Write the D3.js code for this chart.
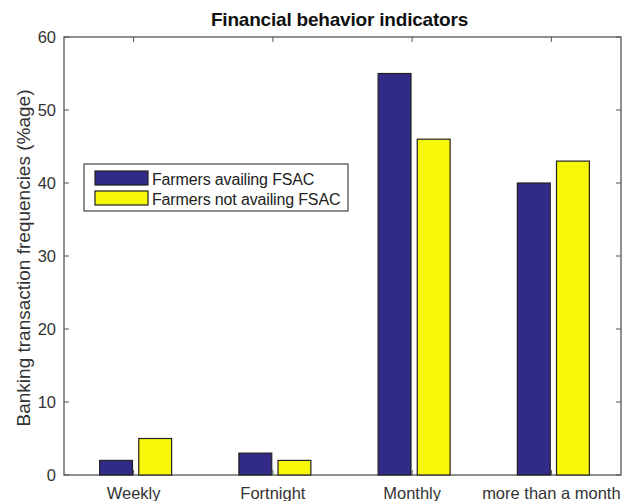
<!DOCTYPE html>
<html lang="en">
<head>
<meta charset="utf-8">
<title>Financial behavior indicators</title>
<script src="https://d3js.org/d3.v7.min.js"></script>
<style>
  body { margin: 0; background: #fff; }
  text { font-family: "Liberation Sans", Arial, sans-serif; }
</style>
</head>
<body>
<script>
const categories = ["Weekly", "Fortnight", "Monthly", "more than a month"];
const series = ["Farmers availing FSAC", "Farmers not availing FSAC"];
const availing = [2, 3, 55, 40];
const notAvailing = [5, 2, 46, 43];
const yTicks = [0, 10, 20, 30, 40, 50, 60];
const colors = ["#312a86", "#f7f70a"];

const width = 622, height = 501,
      plotL = 64, plotR = 621, plotT = 37, plotB = 475;

const svg = d3.select("body").append("svg")
    .attr("width", width).attr("height", height);

const x = d3.scaleBand().domain(categories).range([plotL, plotR]);
const x1 = d3.scaleBand().domain(series).range([-34, 38]).paddingInner(0.16);
const y = d3.scaleLinear().domain([0, 60]).range([plotB, plotT]);

const axisColor = "#555";

// frame
svg.append("rect")
    .attr("x", plotL).attr("y", plotT)
    .attr("width", plotR - plotL).attr("height", plotB - plotT)
    .attr("fill", "none").attr("stroke", axisColor).attr("stroke-width", 1.3);

// bars
const values = [availing, notAvailing];
series.forEach((s, si) => {
  svg.append("g").selectAll("rect")
    .data(categories)
    .join("rect")
      .attr("x", (c) => x(c) + x.bandwidth() / 2 + x1(s))
      .attr("y", (c, i) => y(values[si][i]))
      .attr("width", x1.bandwidth())
      .attr("height", (c, i) => y(0) - y(values[si][i]))
      .attr("fill", colors[si])
      .attr("stroke", "#222")
      .attr("stroke-width", 1.2);
});

// y ticks (inward, both sides)
const tl = 5;
yTicks.forEach(t => {
  svg.append("line").attr("x1", plotL).attr("x2", plotL + tl)
    .attr("y1", y(t)).attr("y2", y(t)).attr("stroke", axisColor);
  svg.append("line").attr("x1", plotR - tl).attr("x2", plotR)
    .attr("y1", y(t)).attr("y2", y(t)).attr("stroke", axisColor);
  svg.append("text").attr("x", plotL - 8).attr("y", y(t) + 6)
    .attr("text-anchor", "end").attr("font-size", 16.5).attr("fill", "#333")
    .text(t);
});

// x ticks (inward, both sides)
categories.forEach(c => {
  const cx = x(c) + x.bandwidth() / 2;
  svg.append("line").attr("x1", cx).attr("x2", cx)
    .attr("y1", plotB).attr("y2", plotB - tl).attr("stroke", axisColor);
  svg.append("line").attr("x1", cx).attr("x2", cx)
    .attr("y1", plotT).attr("y2", plotT + tl).attr("stroke", axisColor);
  svg.append("text").attr("x", cx).attr("y", 499)
    .attr("text-anchor", "middle").attr("font-size", 16.5).attr("fill", "#333")
    .text(c);
});

// title
svg.append("text").attr("x", (plotL + plotR) / 2 - 3).attr("y", 26)
  .attr("text-anchor", "middle").attr("font-size", 19).attr("font-weight", "bold")
  .attr("letter-spacing", -0.2).attr("fill", "#111").text("Financial behavior indicators");

// y label
svg.append("text")
  .attr("transform", "translate(30,258) rotate(-90)")
  .attr("text-anchor", "middle").attr("font-size", 19).attr("fill", "#333")
  .text("Banking transaction frequencies (%age)");

// legend
const lg = svg.append("g");
lg.append("rect").attr("x", 84).attr("y", 164).attr("width", 264).attr("height", 47)
  .attr("fill", "#fff").attr("stroke", "#444").attr("stroke-width", 1.2);
series.forEach((s, i) => {
  lg.append("rect").attr("x", 95).attr("y", 171 + i * 20).attr("width", 53).attr("height", 14)
    .attr("fill", colors[i]).attr("stroke", "#222").attr("stroke-width", 1.2);
  lg.append("text").attr("x", 152).attr("y", 184.5 + i * 20)
    .attr("font-size", 16).attr("letter-spacing", -0.15).attr("fill", "#222").text(s);
});
</script>
</body>
</html>
